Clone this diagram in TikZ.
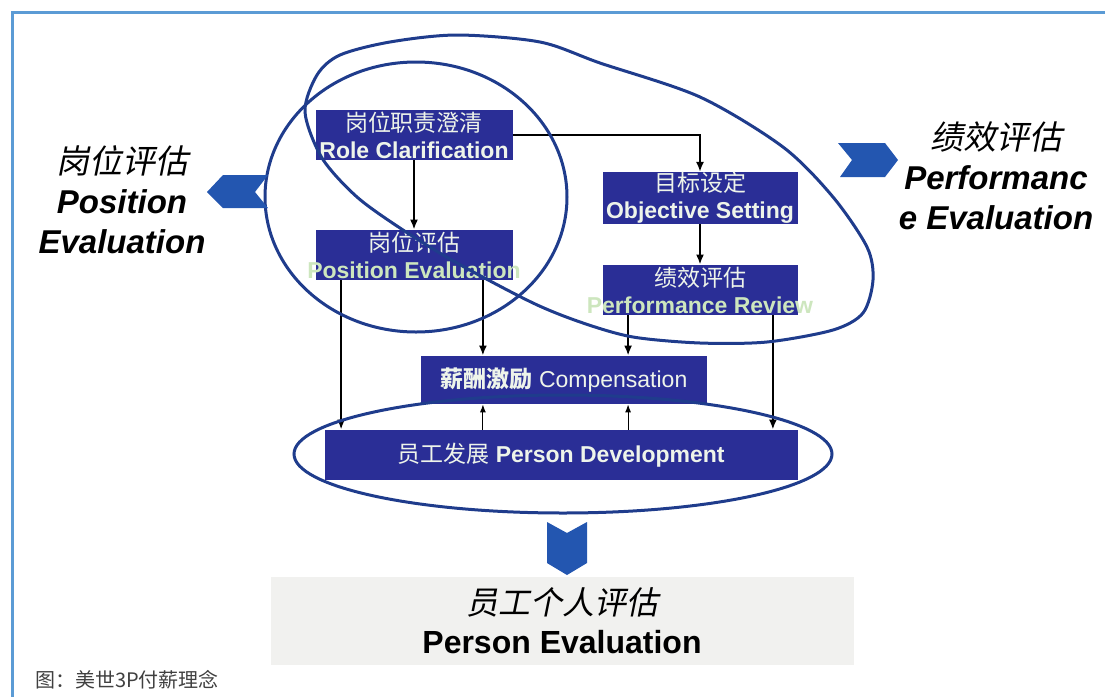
\documentclass[tikz,border=0pt]{standalone}
\usepackage{fontspec}
\setmainfont{Liberation Sans}
\newfontfamily\cjk{Noto Sans CJK SC}
\newfontfamily\cjkslant[FakeSlant=0.2]{Noto Sans CJK SC}
\usetikzlibrary{positioning}
\usetikzlibrary{arrows.meta}
\definecolor{BoxColor}{HTML}{2A2E96}
\definecolor{RingColor}{HTML}{1F3C8C}
\definecolor{ChevColor}{HTML}{2356B0}
\definecolor{FrameColor}{HTML}{5B9BD5}
\definecolor{PaleText}{HTML}{EEF4EA}
\definecolor{PaleGreen}{HTML}{CDE6BE}
\definecolor{BandColor}{HTML}{F1F1EF}
\tikzset{
  blockbox/.style={fill=BoxColor, text=PaleText, inner sep=0pt, align=center,
    font=\fontsize{11.5}{13.5}\selectfont\bfseries},
  flowarrow/.style={-{Latex[length=5pt,width=4pt]}, line width=1pt},
  thinarrow/.style={-{Latex[length=4pt,width=3pt]}, line width=0.5pt},
  ringline/.style={draw=RingColor, line width=1.5pt},
  biglabel/.style={align=center, font=\fontsize{16.5}{20}\selectfont\bfseries\itshape}
}
\begin{document}
\begin{tikzpicture}[x=0.5pt,y=-0.5pt]
\useasboundingbox (0,0) rectangle (1105,697);
\draw[FrameColor, line width=1.5pt] (12,697) -- (12,12) -- (1105,12);

\node[blockbox, minimum width=98.5pt, minimum height=25pt] (role) at (414,135) {{\cjk\mdseries 岗位职责澄清}\\Role Clarification};
\node[blockbox, minimum width=98.5pt, minimum height=25pt] (poseval) at (414,255) {{\cjk\mdseries 岗位评估}\\\makebox[0pt]{\color{PaleGreen}Position Evaluation}};
\node[blockbox, minimum width=97.5pt, minimum height=25.5pt] (objective) at (700,198) {{\cjk\mdseries 目标设定}\\Objective Setting};
\node[blockbox, minimum width=97.5pt, minimum height=25pt] (perfreview) at (700,290) {{\cjk\mdseries 绩效评估}\\\makebox[0pt]{\color{PaleGreen}Performance Review}};
\node[blockbox, minimum width=143pt, minimum height=24pt] (comp) at (564,380) {{\cjk 薪酬激励} \mdseries Compensation};
\node[blockbox, minimum width=236.5pt, minimum height=25pt] (persondev) at (561,455) {{\cjk\mdseries 员工发展} Person Development};

\node[biglabel] (poslabel) at (122,200) {{\cjkslant\mdseries 岗位评估}\\Position\\Evaluation};
\node[biglabel] (perflabel) at (996,176) {{\cjkslant\mdseries 绩效评估}\\Performanc\\e Evaluation};
\node[fill=BandColor, minimum width=291.5pt, minimum height=44pt, align=center,
  font=\fontsize{16}{19.5}\selectfont\bfseries] (personlabel) at (562,621) {{\cjkslant\mdseries 员工个人评估}\\Person Evaluation};
\node[anchor=west, text=black!75, font=\cjk\fontsize{10}{12}\selectfont] (caption) at (28,680) {图：美世3P付薪理念};

\draw[flowarrow] (role) -- (poseval);
\draw[flowarrow] (role.east) -| (objective.north);
\draw[flowarrow] (objective) -- (perfreview);
\draw[flowarrow] ([xshift=13pt]poseval.south west) coordinate (a1) -- (a1 |- persondev.north);
\draw[flowarrow] ([xshift=-15pt]poseval.south east) coordinate (a2) -- (a2 |- comp.north);
\draw[flowarrow] ([xshift=13pt]perfreview.south west) coordinate (a3) -- (a3 |- comp.north);
\draw[flowarrow] ([xshift=-12.5pt]perfreview.south east) coordinate (a4) -- (a4 |- persondev.north);
\draw[thinarrow] (a2 |- persondev.north) -- (a2 |- comp.south);
\draw[thinarrow] (a3 |- persondev.north) -- (a3 |- comp.south);

\draw[ringline] (416,197) ellipse [x radius=75.5pt, y radius=67.5pt];
\draw[ringline] plot[smooth cycle] coordinates {(305,112) (317,75) (340,55) (390,42) (457,35) (540,42) (600,63) (700,97) (783,147) (833,197) (867,247) (873,280) (863,313) (833,330) (767,342) (700,343) (633,337) (583,323) (533,303) (457,263) (403,230) (357,197) (322,158)};
\draw[ringline] (563,454) ellipse [x radius=134.5pt, y radius=29.5pt];

\fill[ChevColor] (207,192) -- (223,175) -- (268,175) -- (255,192) -- (268,208) -- (223,208) -- cycle;
\fill[ChevColor] (838,143) -- (885,143) -- (898,160) -- (885,177) -- (840,177) -- (852,160) -- cycle;
\fill[ChevColor] (547,522) -- (567,533) -- (587,522) -- (587,563) -- (567,575) -- (547,563) -- cycle;
\end{tikzpicture}
\end{document}
